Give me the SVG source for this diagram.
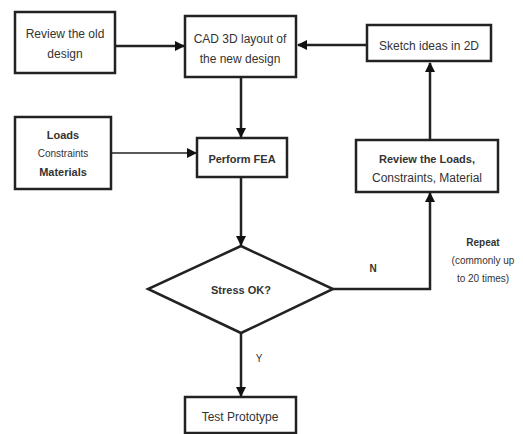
<svg xmlns="http://www.w3.org/2000/svg" width="523" height="434" viewBox="0 0 523 434">
<style>
.box{fill:#fff;stroke:#222;stroke-width:2.5}
.t{font-family:"Liberation Sans",Arial,sans-serif;font-size:12px;fill:#333;text-anchor:middle}
.b{font-weight:bold;font-size:11px}
.s{font-size:10px}
.c{fill:none;stroke:#222;stroke-width:2.5}
.thin{stroke-width:1.5}
</style>
<defs>
<marker id="ah" markerWidth="10" markerHeight="10" refX="9" refY="5" orient="auto" markerUnits="userSpaceOnUse">
<path d="M0,0 L10,5 L0,10 Z" fill="#111"/>
</marker>
</defs>
<rect width="523" height="434" fill="#fff"/>
<g id="connectors">
<line class="c" x1="116" y1="46" x2="184" y2="46" marker-end="url(#ah)"/>
<line class="c" x1="367" y1="45" x2="298" y2="45" marker-end="url(#ah)"/>
<line class="c" x1="241" y1="77" x2="241" y2="137" marker-end="url(#ah)"/>
<line class="c thin" x1="112" y1="153" x2="196" y2="153" marker-end="url(#ah)"/>
<line class="c" x1="241" y1="177" x2="241" y2="245" marker-end="url(#ah)"/>
<line class="c" x1="241" y1="333" x2="241" y2="396" marker-end="url(#ah)"/>
<polyline class="c" points="333,289 430,289 430,193" marker-end="url(#ah)"/>
<line class="c" x1="430" y1="140" x2="430" y2="63" marker-end="url(#ah)"/>
</g>
<g id="n1">
<rect class="box" x="15" y="12" width="100" height="61"/>
<text class="t" x="65" y="38">Review the old</text>
<text class="t" x="65" y="58">design</text>
</g>
<g id="n2">
<rect class="box" x="185" y="16" width="111" height="61"/>
<text class="t" x="240" y="43">CAD 3D layout of</text>
<text class="t" x="240" y="63">the new design</text>
</g>
<g id="n3">
<rect class="box" x="367" y="25" width="124" height="36"/>
<text class="t" x="429" y="50">Sketch ideas in 2D</text>
</g>
<g id="n4">
<rect class="box" x="15" y="117" width="96" height="72"/>
<text class="t b" x="63" y="139">Loads</text>
<text class="t s" x="63" y="157">Constraints</text>
<text class="t b" x="63" y="176">Materials</text>
</g>
<g id="n5">
<rect class="box" x="197" y="138" width="90" height="39"/>
<text class="t b" x="242" y="163">Perform FEA</text>
</g>
<g id="n6">
<rect class="box" x="356" y="140" width="142" height="52"/>
<text class="t b" x="427" y="163">Review the Loads,</text>
<text class="t" x="427" y="182">Constraints, Material</text>
</g>
<g id="n7">
<polygon class="box" points="241,246 333,289 241,333 148,289"/>
<text class="t b" x="241" y="294">Stress OK?</text>
</g>
<g id="n8">
<rect class="box" x="185" y="397" width="111" height="36"/>
<text class="t" x="240" y="421">Test Prototype</text>
</g>
<g id="labels">
<text class="t b s" x="373" y="272">N</text>
<text class="t s" x="259" y="362">Y</text>
<text class="t b s" x="483" y="246">Repeat</text>
<text class="t s" x="483" y="264">(commonly up</text>
<text class="t s" x="483" y="282">to 20 times)</text>
</g>
</svg>
